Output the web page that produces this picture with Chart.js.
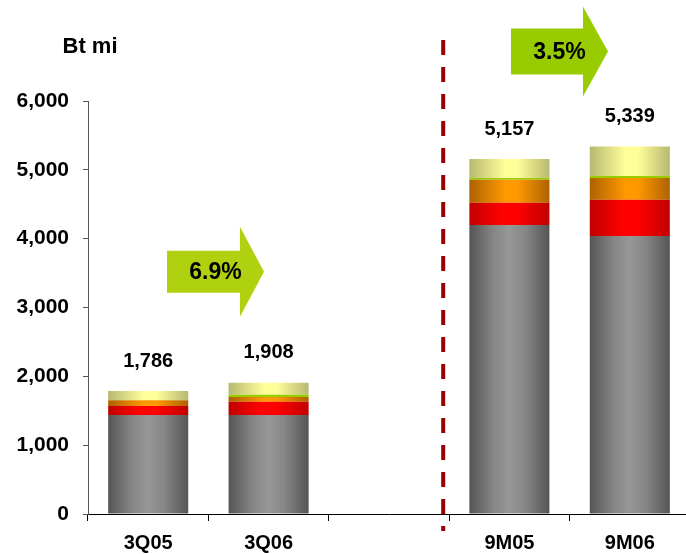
<!DOCTYPE html>
<html lang="en">
<head>
<meta charset="UTF-8">
<title>Revenue Bt mi</title>
<script src="https://cdn.jsdelivr.net/npm/chart.js"></script>
<style>
  * { margin: 0; padding: 0; box-sizing: border-box; }
  body { background: #fff; overflow: hidden; width: 686px; height: 554px; }
  #chartBox { width: 694px; height: 554px; }
</style>
</head>
<body>
<div id="chartBox">
  <canvas id="myChart" width="694" height="554"></canvas>
</div>

<script>
// setup block
const periods = ['3Q05', '3Q06', '', '9M05', '9M06'];
const baseVals   = [1440, 1440, null, 4200, 4040];
const redVals    = [130, 190, null, 320, 525];
const orangeVals = [83, 68, null, 335, 315];
const greenVals  = [0, 33, null, 25, 30];
const topVals    = [133, 177, null, 277, 429];
const totals     = [1786, 1908, null, 5157, 5339];
const yTicks     = [0, 1000, 2000, 3000, 4000, 5000, 6000];

// growth arrows: tail, base of head, tip (category units), centre value
const growth = [
  { label: '6.9%', x0: 0.156, xh: 0.762, x1: 0.962, y: 3520, body: 21, head: 45, color: '#b0d10f' },
  { label: '3.5%', x0: 3.013, xh: 3.611, x1: 3.819, y: 6720, body: 23, head: 45, color: '#99cc00' }
];

const FONT = "'Liberation Sans', Arial, sans-serif";
const BAR_PCT = 0.665;

// cylinder-like shading across each bar
function shade(stops) {
  const flat = stops[Math.floor(stops.length / 2)][1];
  return (ctx) => {
    const chart = ctx.chart;
    const xs = chart.scales && chart.scales.x;
    if (ctx.type !== 'data' || !xs || !chart.chartArea) return flat;
    const c = xs.getPixelForValue(ctx.dataIndex);
    const half = (xs.width / periods.length) * BAR_PCT / 2;
    if (!isFinite(c) || !isFinite(half) || half <= 0) return flat;
    const g = chart.ctx.createLinearGradient(c - half, 0, c + half, 0);
    stops.forEach(s => g.addColorStop(s[0], s[1]));
    return g;
  };
}

const data = {
  labels: periods,
  datasets: [
    { label: 'base', data: baseVals,
      backgroundColor: shade([[0, '#555555'], [0.3, '#868686'], [0.5, '#979797'], [0.7, '#868686'], [1, '#555555']]) },
    { label: 'red', data: redVals,
      backgroundColor: shade([[0, '#c00000'], [0.4, '#ff0000'], [0.6, '#ff0000'], [1, '#c00000']]) },
    { label: 'orange', data: orangeVals,
      backgroundColor: shade([[0, '#ad6200'], [0.45, '#ff9900'], [0.6, '#ff9900'], [1, '#ad6200']]) },
    { label: 'green', data: greenVals, backgroundColor: '#99cc00' },
    { label: 'top', data: topVals,
      backgroundColor: shade([[0, '#b8b872'], [0.45, '#ffff99'], [0.6, '#ffff99'], [1, '#b8b872']]) }
  ]
};

// plugin block
const extras = {
  id: 'extras',
  afterDatasetsDraw(chart) {
    const { ctx, chartArea, scales: { x, y } } = chart;
    ctx.save();

    // unit title
    ctx.fillStyle = '#000';
    ctx.font = 'bold 22px ' + FONT;
    ctx.textAlign = 'center';
    ctx.textBaseline = 'middle';
    ctx.fillText('Bt mi', chartArea.left + 2, chartArea.top - 54);

    // totals above bars
    ctx.font = 'bold 20px ' + FONT;
    totals.forEach((t, i) => {
      if (t == null) return;
      ctx.fillText(t.toLocaleString('en-US'), x.getPixelForValue(i), y.getPixelForValue(t) - 30);
    });

    // quarter / nine-month divider
    const dx = (x.getPixelForValue(2) + x.getPixelForValue(3)) / 2 - 6;
    ctx.strokeStyle = '#990000';
    ctx.lineWidth = 4;
    ctx.setLineDash([15, 12]);
    ctx.beginPath();
    ctx.moveTo(dx, chartArea.top - 61);
    ctx.lineTo(dx, chartArea.bottom + 17);
    ctx.stroke();
    ctx.setLineDash([]);

    // growth arrows
    growth.forEach(a => {
      const l = x.getPixelForValue(a.x0);
      const h = x.getPixelForValue(a.xh);
      const r = x.getPixelForValue(a.x1);
      const cy = y.getPixelForValue(a.y);
      ctx.fillStyle = a.color;
      ctx.beginPath();
      ctx.moveTo(l, cy - a.body);
      ctx.lineTo(h, cy - a.body);
      ctx.lineTo(h, cy - a.head);
      ctx.lineTo(r, cy);
      ctx.lineTo(h, cy + a.head);
      ctx.lineTo(h, cy + a.body);
      ctx.lineTo(l, cy + a.body);
      ctx.closePath();
      ctx.fill();
      ctx.fillStyle = '#000';
      ctx.font = 'bold 23px ' + FONT;
      ctx.fillText(a.label, (l + r) / 2, cy + 1);
    });

    ctx.restore();
  }
};

// config block
const config = {
  type: 'bar',
  data,
  options: {
    responsive: false,
    animation: false,
    layout: { padding: { top: 101, right: 4, bottom: 0, left: 0 } },
    datasets: {
      bar: { barPercentage: BAR_PCT, categoryPercentage: 1, borderWidth: 0 }
    },
    scales: {
      x: {
        stacked: true,
        afterFit(scale) { scale.height = 40; },
        grid: { offset: true, drawOnChartArea: false, drawTicks: true, tickLength: 7, color: '#000' },
        border: { display: true, color: '#000', width: 1 },
        ticks: { color: '#000', padding: 10, font: { family: FONT, size: 20, weight: 'bold' } }
      },
      y: {
        stacked: true,
        min: 0,
        max: 6000,
        afterFit(scale) { scale.width = 88; },
        afterBuildTicks(scale) { scale.ticks = yTicks.map(v => ({ value: v })); },
        grid: { drawOnChartArea: false, drawTicks: true, tickLength: 5, color: '#555' },
        border: { display: true, color: '#555', width: 1 },
        ticks: {
          color: '#000',
          padding: 14,
          font: { family: FONT, size: 21, weight: 'bold' },
          callback: v => v.toLocaleString('en-US')
        }
      }
    },
    plugins: {
      legend: { display: false },
      tooltip: { enabled: false }
    }
  },
  plugins: [extras]
};

// render block
const myChart = new Chart(document.getElementById('myChart'), config);
</script>
</body>
</html>
